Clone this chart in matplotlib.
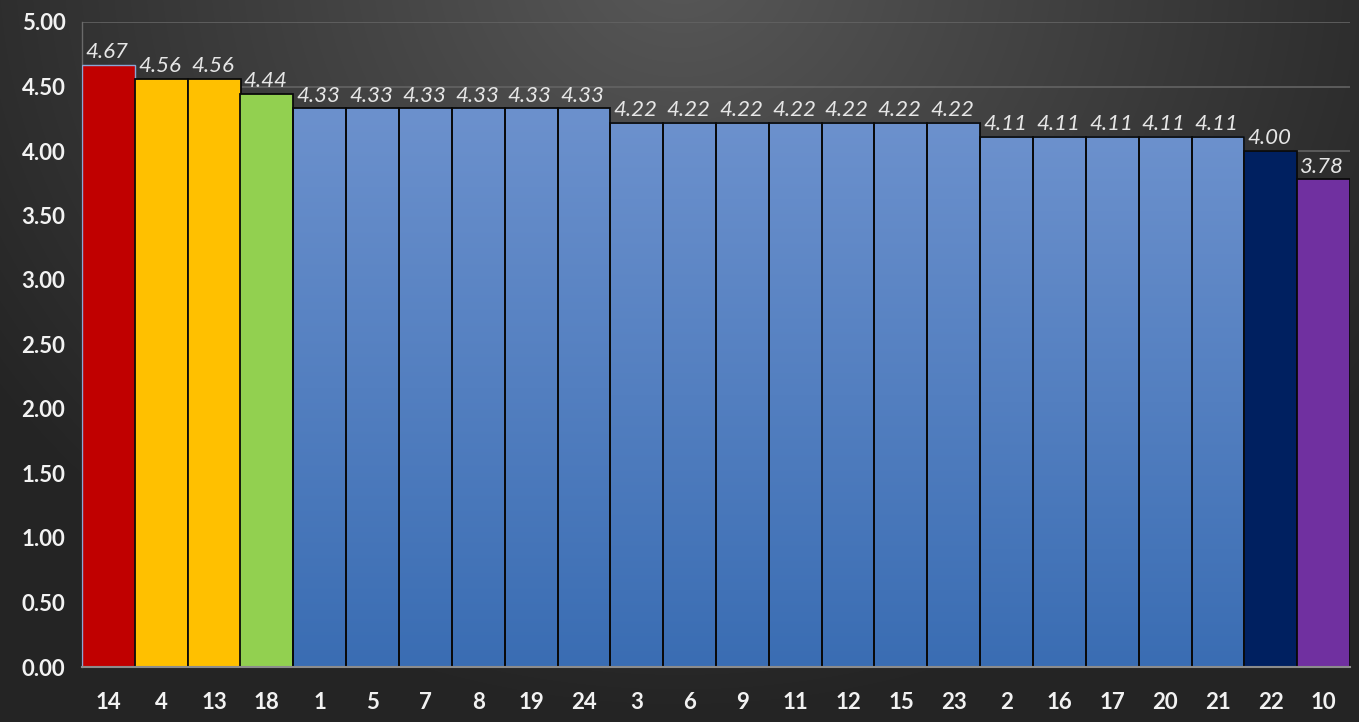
import numpy as np
import matplotlib
matplotlib.use("Agg")
import matplotlib.pyplot as plt
from matplotlib.colors import LinearSegmentedColormap

plt.rcParams['font.family'] = ['Lato', 'DejaVu Sans']

categories = ["14", "4", "13", "18", "1", "5", "7", "8", "19", "24", "3", "6", "9",
              "11", "12", "15", "23", "2", "16", "17", "20", "21", "22", "10"]
values = [4.67, 4.56, 4.56, 4.44, 4.33, 4.33, 4.33, 4.33, 4.33, 4.33, 4.22, 4.22, 4.22,
          4.22, 4.22, 4.22, 4.22, 4.11, 4.11, 4.11, 4.11, 4.11, 4.00, 3.78]
labels = ["4.67", "4.56", "4.56", "4.44", "4.33", "4.33", "4.33", "4.33", "4.33", "4.33",
          "4.22", "4.22", "4.22", "4.22", "4.22", "4.22", "4.22", "4.11", "4.11", "4.11",
          "4.11", "4.11", "4.00", "3.78"]
special_colors = {0: "#c00000", 1: "#ffc000", 2: "#ffc000", 3: "#92d050",
                  22: "#002060", 23: "#7030a0"}
yticks = [0.0, 0.5, 1.0, 1.5, 2.0, 2.5, 3.0, 3.5, 4.0, 4.5, 5.0]

W, H = 1359, 722
fig = plt.figure(figsize=(W / 100, H / 100), dpi=100)

# background radial gradient
bg = fig.add_axes([0, 0, 1, 1], zorder=-10)
yy, xx = np.mgrid[0:H, 0:W]
cx, cy = W * 0.5, -40
d = np.sqrt(((xx - cx) / (W * 0.62)) ** 2 + ((yy - cy) / (H * 1.05)) ** 2)
d = np.clip(d, 0, 1)
light = np.array([0x58, 0x58, 0x58]) / 255
dark = np.array([0x24, 0x24, 0x24]) / 255
img = light[None, None, :] * (1 - d[..., None]) + dark[None, None, :] * d[..., None]
bg.imshow(img, extent=(0, 1, 0, 1), aspect='auto', origin='upper')
bg.axis('off')

ax = fig.add_axes([82 / W, 1 - 667 / H, (1350 - 82) / W, (667 - 22) / H])
ax.set_facecolor('none')
x = np.arange(len(categories))

blue_cmap = LinearSegmentedColormap.from_list("b", ["#3a6db3", "#6c91cd"])
grad = np.linspace(0, 1, 256).reshape(-1, 1)

for i, (xi, v) in enumerate(zip(x, values)):
    if i in special_colors:
        ec = "#8aa6d6" if i == 0 else "#0a0a0a"
        lw = 1.0 if i == 0 else 1.3
        ax.bar(xi, v, width=1.0, color=special_colors[i], edgecolor=ec, linewidth=lw, zorder=3)
    else:
        ax.imshow(grad, extent=(xi - 0.5, xi + 0.5, 0, v), origin='lower', cmap=blue_cmap,
                  aspect='auto', zorder=2.5)
        ax.bar(xi, v, width=1.0, facecolor='none', edgecolor="#0a0a0a", linewidth=1.3, zorder=3)
    ax.annotate(labels[i], (xi, v), xytext=(-1, 2), textcoords='offset points',
                ha='center', va='bottom', fontsize=16, style='italic', color='#e6e6e6', zorder=5)

ax.set_xlim(-0.5, len(categories) - 0.5)
ax.set_ylim(0, 5.0)
ax.set_aspect('auto')

ax.set_yticks(yticks)
ax.set_yticklabels([f"{t:.2f}" for t in yticks])
ax.set_xticks(x)
ax.set_xticklabels(categories)
for lab in ax.get_yticklabels() + ax.get_xticklabels():
    lab.set_fontweight('bold')
    lab.set_color('#f2f2f2')
    lab.set_fontsize(16)
ax.tick_params(axis='y', length=0, pad=12)
ax.tick_params(axis='x', length=0, pad=18)

ax.yaxis.grid(True, color='#636363', linewidth=1.2, zorder=0)
ax.set_axisbelow(True)
for s in ['top', 'right']:
    ax.spines[s].set_visible(False)
ax.spines['left'].set_color('#6a6a6a')
ax.spines['left'].set_linewidth(1.0)
ax.spines['bottom'].set_color('#8c8c8c')
ax.spines['bottom'].set_linewidth(1.5)
ax.spines['bottom'].set_zorder(4)

fig.savefig("out.png", dpi=100)
